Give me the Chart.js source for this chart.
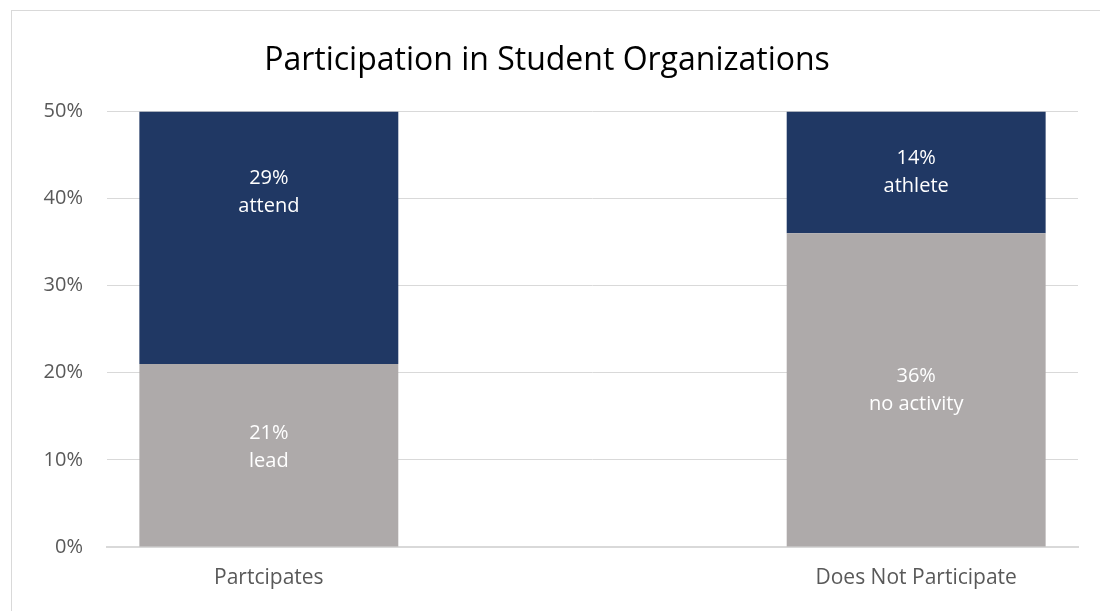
<!DOCTYPE html>
<html>
<head>
<meta charset="utf-8">
<script src="https://cdn.jsdelivr.net/npm/chart.js@4/dist/chart.umd.min.js"></script>
<style>
  html, body { margin: 0; padding: 0; background: #fff; overflow: hidden; }
  canvas { display: block; }
</style>
</head>
<body>
<canvas id="chart-orgs" width="1100" height="611"></canvas>
<script>
// Participation in student organizations, stacked by activity type
const categories = ['Partcipates', '', 'Does Not Participate'];
const lowerValues = [21, null, 36];
const lowerNames = ['lead', '', 'no activity'];
const upperValues = [29, null, 14];
const upperNames = ['attend', '', 'athlete'];
const yTicks = [0, 10, 20, 30, 40, 50];

const FONT = "'Open Sans', 'Noto Sans', sans-serif";

// thin frame around the whole chart
const framePlugin = {
  id: 'frame',
  beforeDraw(chart) {
    const ctx = chart.ctx;
    ctx.save();
    ctx.strokeStyle = '#d9d9d9';
    ctx.lineWidth = 1;
    ctx.strokeRect(11.5, 10.5, chart.width + 20, chart.height + 20);
    ctx.restore();
  }
};

// two-line value + name labels in the middle of each segment
const segmentLabels = {
  id: 'segmentLabels',
  afterDatasetsDraw(chart) {
    const ctx = chart.ctx;
    ctx.save();
    ctx.fillStyle = '#ffffff';
    ctx.font = '20px ' + FONT;
    ctx.textAlign = 'center';
    ctx.textBaseline = 'middle';
    chart.data.datasets.forEach((ds, di) => {
      const meta = chart.getDatasetMeta(di);
      meta.data.forEach((bar, i) => {
        const v = ds.data[i];
        if (v == null) return;
        const mid = (bar.y + bar.base) / 2 + (ds.labelShift ? ds.labelShift[i] : 0);
        ctx.fillText(v + '%', bar.x, mid - 14);
        ctx.fillText(ds.names[i], bar.x, mid + 14);
      });
    });
    ctx.restore();
  }
};

new Chart(document.getElementById('chart-orgs'), {
  type: 'bar',
  data: {
    labels: categories,
    datasets: [
      {
        label: 'lower',
        data: lowerValues,
        names: lowerNames,
        labelShift: [-8, 0, 0],
        backgroundColor: '#aeaaaa',
        categoryPercentage: 0.8,
        barPercentage: 1
      },
      {
        label: 'upper',
        data: upperValues,
        names: upperNames,
        labelShift: [-45, 0, 0],
        backgroundColor: '#203864',
        categoryPercentage: 0.8,
        barPercentage: 1
      }
    ]
  },
  options: {
    responsive: false,
    animation: false,
    devicePixelRatio: 1,
    layout: { padding: { left: 16, right: 22, top: 0, bottom: 0 } },
    plugins: {
      legend: { display: false },
      tooltip: { enabled: false },
      title: {
        display: true,
        text: 'Participation in Student Organizations',
        color: '#000000',
        font: { family: FONT, size: 32, weight: 'normal' },
        padding: { top: 42, bottom: 31 }
      }
    },
    scales: {
      x: {
        stacked: true,
        grid: { display: false, drawTicks: false },
        border: { display: true, color: '#d9d9d9', width: 2 },
        ticks: { color: '#595959', font: { family: FONT, size: 21 }, padding: 18 },
        afterFit(scale) { scale.height = 64; }
      },
      y: {
        stacked: true,
        min: 0,
        max: 50,
        afterBuildTicks(scale) { scale.ticks = yTicks.map(v => ({ value: v })); },
        grid: { color: '#d9d9d9', lineWidth: 1, drawTicks: false },
        border: { display: false },
        ticks: {
          color: '#595959',
          font: { family: FONT, size: 20 },
          padding: 24,
          callback: v => v + '%'
        },
        afterFit(scale) { scale.width = 91; }
      }
    }
  },
  plugins: [framePlugin, segmentLabels]
});
</script>
</body>
</html>
